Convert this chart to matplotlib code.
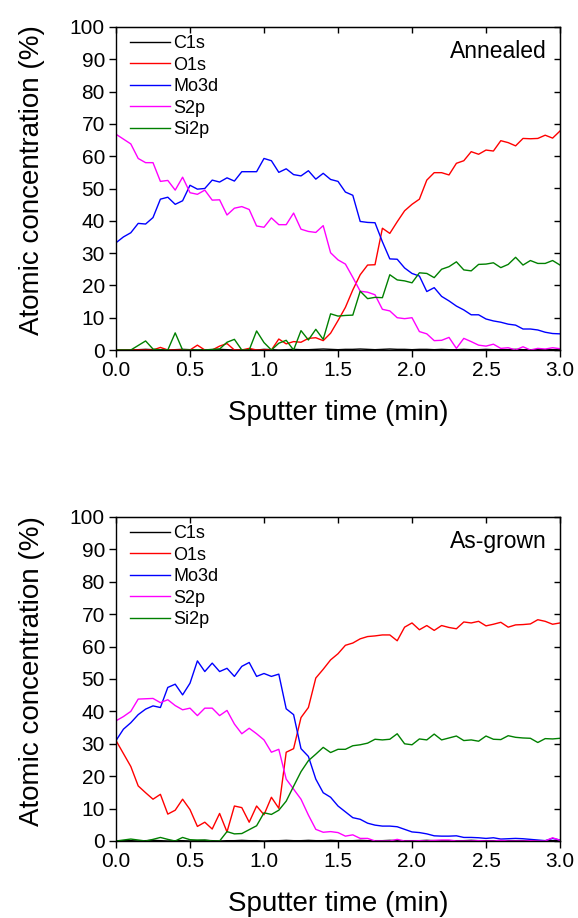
import numpy as np
import matplotlib
matplotlib.use("Agg")
import matplotlib.pyplot as plt

plt.rcParams['font.family'] = ['Liberation Sans', 'DejaVu Sans']

# sputter time grid (min)
time = np.linspace(0.0, 3.0, 61)

# ---- Annealed ----
ann_c1s = [0, 0, 0, 0.1, 0.2, 0.1, 0.1, 0, 0.1, 0.2, 0.1, 0, 0.1, 0.1, 0.2, 0.1,
           0, 0.1, 0.1, 0, 0.2, 0.1, 0, 0.1, 0.2, 0.1, 0.1, 0.2, 0.3, 0.2, 0.1,
           0.2, 0.2, 0.3, 0.2, 0.1, 0.2, 0.3, 0.2, 0.2, 0.1, 0.2, 0.2, 0.1, 0.2,
           0.1, 0.1, 0.2, 0.1, 0.1, 0.2, 0.1, 0.1, 0.1, 0.2, 0.1, 0.1, 0.1, 0.1,
           0.1, 0.1]
ann_o1s = [0, 0, 0, 0, 0, 0, 0.8, 0, 0, 0, 0, 1.5, 0, 0, 1.2, 2.0,
           0, 0, 0.5, 0, 0, 0, 3.4, 1.9, 2.6, 2.4, 3.6, 3.8, 2.9, 5.2, 9.1,
           13.2, 18.6, 23.3, 26.3, 26.4, 37.7, 36.1, 39.7, 43.1, 45.1, 46.7,
           52.6, 54.9, 54.9, 54.2, 57.8, 58.6, 61.4, 60.6, 61.9, 61.6, 64.8,
           64.2, 63.2, 65.5, 65.4, 65.5, 66.5, 65.6, 67.8]
ann_mo3d = [33.2, 35.0, 36.3, 39.2, 39.0, 41.0, 46.7, 47.3, 45.1, 46.2, 51.0,
            49.8, 50.0, 52.6, 52.0, 53.3, 52.3, 55.2, 55.2, 55.2, 59.3, 58.6,
            55.0, 56.1, 54.3, 53.9, 55.5, 52.9, 54.7, 52.8, 52.2, 48.9, 47.9,
            39.8, 39.5, 39.4, 33.5, 28.2, 28.1, 25.4, 23.7, 22.9, 18.1, 19.3,
            16.6, 15.2, 13.6, 12.4, 10.9, 10.9, 9.6, 9.0, 8.6, 8.0, 7.7, 6.5,
            6.5, 6.2, 5.5, 5.1, 5.0]
ann_s2p = [66.8, 65.3, 63.8, 59.3, 58.0, 58.0, 52.2, 52.5, 49.5, 53.5, 48.7,
           48.2, 49.5, 46.4, 46.5, 41.8, 43.9, 44.4, 43.5, 38.4, 38.0, 40.9,
           38.8, 38.8, 42.4, 37.4, 36.7, 36.4, 38.5, 30.1, 27.9, 26.6, 22.5,
           18.2, 17.9, 17.1, 12.6, 12.1, 10.0, 9.7, 10.0, 5.7, 5.0, 2.9, 3.0,
           3.9, 0.5, 3.6, 2.6, 1.5, 1.2, 1.8, 0.5, 0.7, 0.0, 1.0, 0.0, 0.5,
           0.3, 0.7, 0.4]
ann_si2p = [0, 0, 0, 1.4, 2.8, 0.3, 0, 0, 5.3, 0, 0, 0, 0, 0.2, 0.3, 2.4,
            3.3, 0, 0, 5.9, 2.3, 0, 2.1, 3.0, 0, 6.0, 3.1, 6.4, 3.3, 11.2,
            10.5, 10.7, 10.8, 18.2, 15.9, 16.3, 16.2, 23.3, 21.7, 21.4, 20.8,
            23.9, 23.7, 22.4, 25.0, 25.8, 27.3, 24.8, 24.5, 26.5, 26.6, 27.0,
            25.5, 26.5, 28.7, 26.3, 27.7, 26.8, 26.8, 27.7, 26.3]

# ---- As-grown ----
asg_c1s = [0, 0.1, 0.1, 0, 0.1, 0.2, 0.1, 0, 0.1, 0.1, 0, 0.1, 0.2, 0.1, 0,
           0.1, 0.1, 0.2, 0.1, 0.1, 0, 0.1, 0.1, 0.2, 0.1, 0.1, 0.2, 0.1, 0.1,
           0.2, 0.1, 0.1, 0.1, 0.2, 0.1, 0.1, 0.1, 0.2, 0.1, 0.1, 0.1, 0.1,
           0.2, 0.1, 0.1, 0.1, 0.1, 0.1, 0.2, 0.1, 0.1, 0.1, 0.1, 0.1, 0.1,
           0.1, 0.1, 0.1, 0.1, 0.1, 0.1]
asg_o1s = [31.0, 27.0, 23.0, 17.0, 14.9, 12.9, 14.4, 8.3, 9.5, 12.9, 9.7, 4.5,
           5.8, 3.7, 8.5, 2.8, 10.8, 10.3, 5.8, 10.8, 8.1, 13.5, 10.1, 27.4,
           28.5, 38.1, 41.2, 50.3, 53.0, 55.9, 57.8, 60.4, 61.1, 62.4, 63.1,
           63.3, 63.6, 63.6, 61.8, 66.0, 67.3, 65.2, 66.5, 65.0, 66.5, 65.9,
           65.5, 67.6, 67.3, 67.8, 66.4, 66.9, 67.5, 66.0, 66.7, 66.8, 67.0,
           68.3, 67.8, 66.9, 67.3]
asg_mo3d = [31.0, 34.5, 36.5, 39.0, 40.7, 41.7, 41.2, 47.4, 48.4, 45.1, 48.7,
            55.6, 52.3, 54.9, 52.3, 53.3, 50.8, 53.9, 55.1, 50.8, 51.7, 50.8,
            51.5, 40.8, 39.0, 28.5, 26.1, 19.1, 14.9, 13.5, 10.8, 9.0, 7.2,
            6.7, 5.5, 4.9, 4.6, 4.6, 4.4, 3.6, 2.8, 2.6, 2.2, 1.6, 1.5, 1.5,
            1.6, 1.1, 1.1, 1.0, 0.8, 1.0, 0.6, 0.7, 0.8, 0.7, 0.5, 0.3, 0.1,
            0.8, 0.3]
asg_s2p = [37.1, 38.4, 40.0, 43.8, 43.9, 44.0, 42.7, 43.6, 41.8, 40.5, 41.0,
           38.7, 41.0, 41.0, 38.7, 40.3, 36.1, 33.1, 34.8, 33.1, 31.2, 27.4,
           28.3, 19.1, 16.0, 12.9, 8.0, 3.6, 2.7, 2.9, 2.6, 1.5, 1.9, 0.8, 0.8,
           0.0, 0.0, 0.0, 0.5, 0.0, 0.0, 0.1, 0.0, 0.2, 0.3, 0.3, 0.0, 0.0,
           0.0, 0.1, 0.0, 0.0, 0.2, 0.0, 0.0, 0.0, 0.1, 0.0, 0.0, 1.0, 0.2]
asg_si2p = [0, 0.3, 0.6, 0.3, 0, 0.5, 1.1, 0.5, 0, 1.1, 0.4, 0.3, 0.3, 0, 0,
            2.9, 2.2, 2.3, 3.5, 4.7, 8.7, 8.2, 9.5, 12.3, 16.9, 21.4, 24.8,
            26.8, 28.9, 27.3, 28.3, 28.3, 29.4, 29.7, 30.2, 31.4, 31.2, 31.4,
            33.1, 30.0, 29.7, 31.5, 31.2, 33.0, 31.2, 31.8, 32.4, 31.0, 31.2,
            30.8, 32.4, 31.4, 31.3, 32.5, 32.0, 31.8, 31.7, 30.4, 31.6, 31.5,
            31.7]

labels = ["C1s", "O1s", "Mo3d", "S2p", "Si2p"]
colors = ["black", "#ff0000", "#0000ff", "#ff00ff", "#008000"]


def draw_panel(ax, series, tag):
    for y, lab, col in zip(series, labels, colors):
        ax.plot(time, y, color=col, lw=1.0, label=lab)
    ax.set_xlim(0, 3.0)
    ax.set_ylim(0, 100)
    ax.set_xticks(np.arange(0, 3.01, 0.5))
    ax.set_yticks(np.arange(0, 101, 10))
    ax.tick_params(direction='out', length=5, width=1.0, labelsize=15, pad=3)
    for sp in ax.spines.values():
        sp.set_linewidth(1.0)
    top = ax.secondary_xaxis('top')
    top.set_xticks(np.arange(0, 3.01, 0.5))
    top.tick_params(direction='in', length=4, width=1.0, labeltop=False)
    right = ax.secondary_yaxis('right')
    right.set_yticks(np.arange(0, 101, 10))
    right.tick_params(direction='in', length=4, width=1.0, labelright=False)
    ax.set_xlabel("Sputter time (min)", fontsize=20, labelpad=14)
    ax.set_ylabel("Atomic concentration (%)", fontsize=20, labelpad=18)
    ax.yaxis.label.set_y(0.525)
    ax.legend(loc='upper left', bbox_to_anchor=(0.032, 0.975), frameon=False,
              fontsize=13, handlelength=2.2, handletextpad=0.2,
              labelspacing=0.25, borderaxespad=0, borderpad=0)
    ax.text(0.97, 0.925, tag, transform=ax.transAxes, ha='right', va='center',
            fontsize=16.5)


fig = plt.figure(figsize=(5.78, 9.18), dpi=100)
ax1 = fig.add_axes([116 / 578, 1 - 350 / 918, 444 / 578, 323 / 918])
ax2 = fig.add_axes([116 / 578, 1 - 841 / 918, 444 / 578, 324 / 918])

draw_panel(ax1, [ann_c1s, ann_o1s, ann_mo3d, ann_s2p, ann_si2p], "Annealed")
draw_panel(ax2, [asg_c1s, asg_o1s, asg_mo3d, asg_s2p, asg_si2p], "As-grown")

fig.savefig("out.png", dpi=100)
